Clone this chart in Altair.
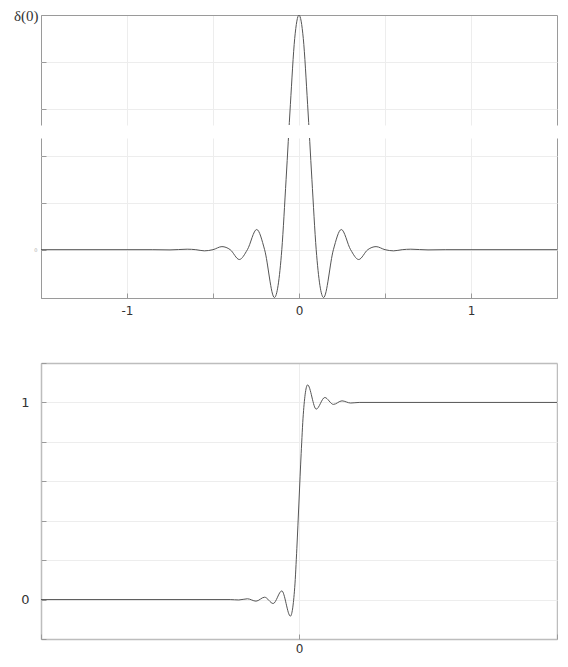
import altair as alt
import pandas as pd

# ---- top chart: kernel (x units; y in grid units, peak = delta(0) = 5)
k_x = [-1.5, -0.85, -0.75, -0.65, -0.6, -0.55, -0.5, -0.448, -0.4, -0.347, -0.3, -0.246, -0.2,
       -0.143, -0.1, -0.075, -0.05, -0.025, 0.0, 0.025, 0.05, 0.075, 0.1, 0.143, 0.2, 0.246,
       0.3, 0.347, 0.4, 0.448, 0.5, 0.55, 0.6, 0.65, 0.75, 0.85, 1.5]
k_y = [0, 0, -0.005, 0.01, 0, -0.025, 0, 0.065, 0, -0.21, 0, 0.43, 0,
       -1.02, 0, 1.5, 3.1, 4.5, 5.0, 4.5, 3.1, 1.5, 0, -1.02, 0, 0.43,
       0, -0.21, 0, 0.065, 0, -0.025, 0, 0.01, -0.005, 0, 0]

# ---- bottom chart: step response
s_x = [-3, -0.8, -0.7, -0.6, -0.5, -0.4, -0.3, -0.2, -0.1, -0.05, -0.025, 0, 0.025, 0.05,
       0.1, 0.2, 0.3, 0.4, 0.5, 0.6, 0.7, 3]
s_y = [0, 0, -0.002, 0.004, -0.008, 0.012, -0.02, 0.044, -0.084, 0.06, 0.26, 0.5, 0.74, 0.94,
       1.089, 0.966, 1.025, 0.99, 1.008, 0.997, 1.0, 1.0]

top_x_ticks = [-1.5, -1.0, -0.5, 0.0, 0.5, 1.0, 1.5]
up_y_ticks = [3, 4, 5]
low_y_ticks = [-1.03, 0, 1, 2]
bot_x_ticks = [-3, 0, 3]
bot_y_ticks = [-0.2, 0, 0.2, 0.4, 0.6, 0.8, 1.0, 1.2]

kern = pd.DataFrame({"x": k_x, "y": k_y})
step = pd.DataFrame({"x": s_x, "y": s_y})

FRAME = "#9a9a9a"
FRAME2 = "#bdbdbd"
GRID = "#ededed"
LINE = "#555555"
W = 516
EXT = 38


def cond(test, a, b):
    return alt.condition(test, alt.value(a), alt.value(b))


# upper panel of top chart
up_dom = [2.66, 5]
upper = alt.Chart(kern).mark_line(color=LINE, strokeWidth=1, clip=True, interpolate="monotone").encode(
    x=alt.X("x:Q", scale=alt.Scale(domain=[-1.5, 1.5], nice=False, zero=False),
            axis=alt.Axis(values=top_x_ticks, grid=True,
                          gridColor=cond("abs(datum.value) >= 1.49", FRAME, GRID),
                          ticks=False, labels=False, domain=False, title=None)),
    y=alt.Y("y:Q", scale=alt.Scale(domain=up_dom, nice=False, zero=False),
            axis=alt.Axis(values=up_y_ticks, grid=True,
                          gridColor=cond("datum.value >= 5", FRAME, GRID),
                          offset=-5, tickSize=5, tickColor=FRAME, domain=False,
                          labelExpr="datum.value == 5 ? 'δ(0)' : ''",
                          labelFont="Liberation Serif", labelFontSize=15, labelColor="#333333",
                          labelPadding=3, minExtent=EXT, maxExtent=EXT, title=None)),
).properties(width=W, height=110)

# lower panel of top chart
low_dom = [-1.03, 2.38]
lower = alt.Chart(kern).mark_line(color=LINE, strokeWidth=1, clip=True, interpolate="monotone").encode(
    x=alt.X("x:Q", scale=alt.Scale(domain=[-1.5, 1.5], nice=False, zero=False),
            axis=alt.Axis(values=top_x_ticks, grid=True,
                          gridColor=cond("abs(datum.value) >= 1.49", FRAME, GRID),
                          offset=-5, tickSize=5, tickColor=FRAME, domain=False,
                          labelExpr="datum.value == -1 ? '-1' : datum.value == 0 ? '0' : datum.value == 1 ? '1' : ''",
                          labelFont="DejaVu Sans", labelFontSize=12, labelColor="#333333",
                          labelPadding=7, title=None)),
    y=alt.Y("y:Q", scale=alt.Scale(domain=low_dom, nice=False, zero=False),
            axis=alt.Axis(values=low_y_ticks, grid=True,
                          gridColor=cond("datum.value < -1", FRAME, GRID),
                          offset=-5, tickSize=5, tickColor=FRAME, domain=False,
                          labelExpr="datum.value == 0 ? '0' : ''",
                          labelFont="DejaVu Sans", labelFontSize=5, labelColor="#aaaaaa",
                          labelPadding=4, minExtent=EXT, maxExtent=EXT, title=None)),
).properties(width=W, height=160)

# bottom chart
b_dom = [-0.2, 1.2]
bottom = alt.Chart(step).mark_line(color=LINE, strokeWidth=1, clip=True, interpolate="monotone").encode(
    x=alt.X("x:Q", scale=alt.Scale(domain=[-3, 3], nice=False, zero=False),
            axis=alt.Axis(values=bot_x_ticks, grid=True,
                          gridColor=cond("abs(datum.value) >= 2.99", FRAME2, GRID),
                          gridWidth=cond("abs(datum.value) >= 2.99", 1.5, 1),
                          offset=-5, tickSize=5, tickColor=FRAME, domain=False,
                          labelExpr="datum.value == 0 ? '0' : ''",
                          labelFont="DejaVu Sans", labelFontSize=12, labelColor="#333333",
                          labelPadding=4, title=None)),
    y=alt.Y("y:Q", scale=alt.Scale(domain=b_dom, nice=False, zero=False),
            axis=alt.Axis(values=bot_y_ticks, grid=True,
                          gridColor=cond("datum.value < -0.1 || datum.value > 1.1", FRAME2, GRID),
                          gridWidth=cond("datum.value < -0.1 || datum.value > 1.1", 1.5, 1),
                          offset=-5, tickSize=5, tickColor=FRAME, domain=False,
                          labelExpr="datum.value == 0 ? '0' : datum.value == 1 ? '1' : ''",
                          labelFont="DejaVu Sans", labelFontSize=13, labelColor="#333333",
                          labelPadding=12, minExtent=EXT, maxExtent=EXT, title=None)),
).properties(width=W, height=276)

top = alt.vconcat(upper, lower, spacing=13)
chart = alt.vconcat(top, bottom, spacing=46).properties(
    padding={"left": 0, "top": 0, "right": 0, "bottom": 0}
).configure_view(stroke=None)

chart.save("out.html", embed_options={"renderer": "svg", "actions": False})
